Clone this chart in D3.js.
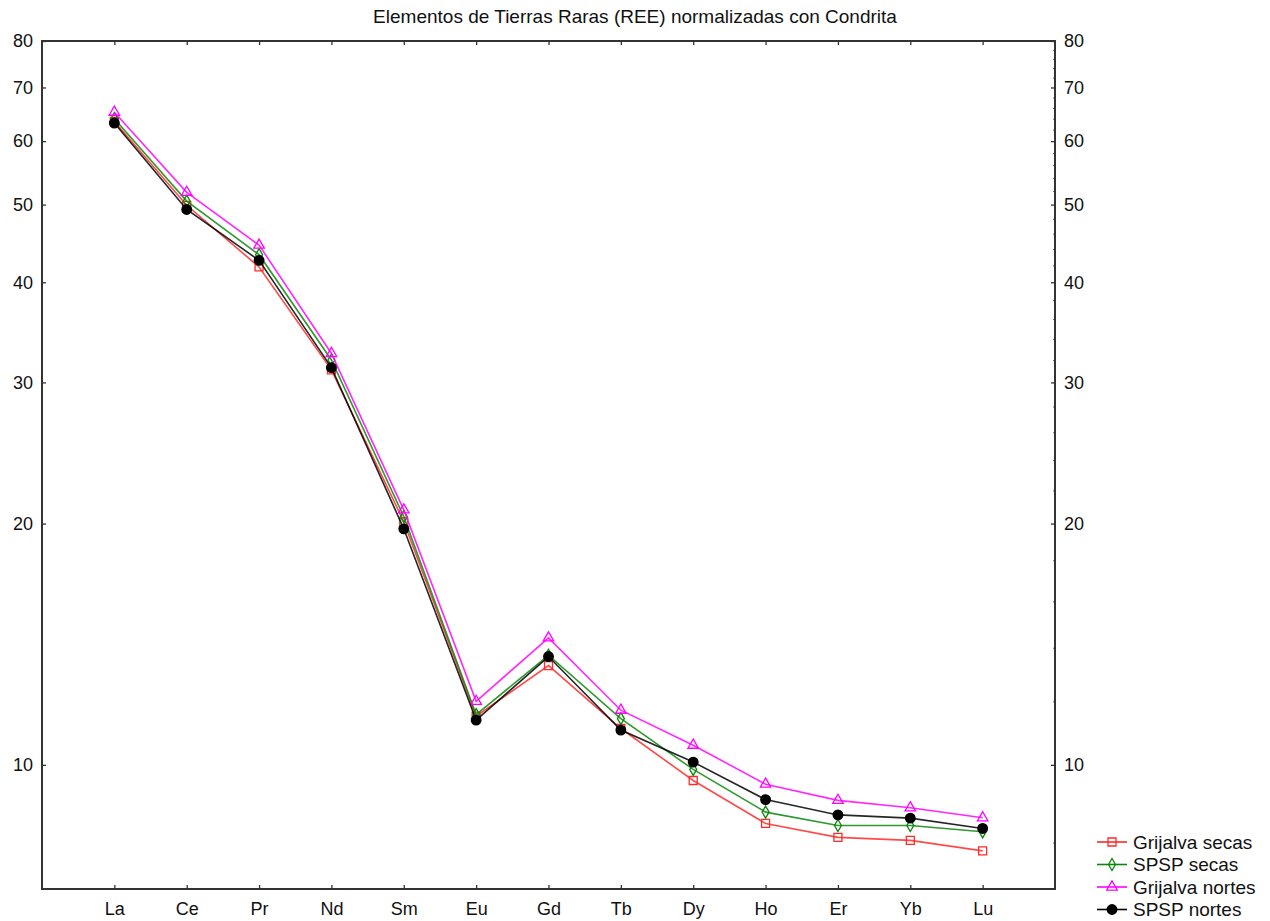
<!DOCTYPE html>
<html>
<head>
<meta charset="utf-8">
<script src="https://cdn.jsdelivr.net/npm/d3@7"></script>
<style>
  html, body { margin: 0; padding: 0; background: #fff; }
  svg { display: block; font-family: "Liberation Sans", Arial, sans-serif; }
</style>
</head>
<body>
<svg id="chart" width="1270" height="921"></svg>
<script>
// REE patterns normalised to chondrite
const elements = ["La","Ce","Pr","Nd","Sm","Eu","Gd","Tb","Dy","Ho","Er","Yb","Lu"];
const grijalvaSecas  = [63.5, 49.9, 41.8, 31.1, 20.1, 11.5, 13.3, 11.1, 9.56, 8.45, 8.12, 8.05, 7.81];
const spspSecas      = [64.0, 50.5, 43.3, 32.0, 20.4, 11.55, 13.7, 11.42, 9.87, 8.73, 8.40, 8.40, 8.25];
const grijalvaNortes = [65.2, 51.8, 44.5, 32.6, 20.8, 12.0, 14.4, 11.7, 10.58, 9.46, 9.03, 8.84, 8.59];
const spspNortes     = [63.2, 49.3, 42.6, 31.3, 19.7, 11.37, 13.65, 11.05, 10.08, 9.05, 8.66, 8.58, 8.33];
const majorTicks = [10, 20, 30, 40, 50, 60, 70, 80];
const minorTicks = [8, 12, 14, 16, 18, 22, 24, 26, 28, 32, 34, 36, 38, 42, 44, 46, 48, 52, 54, 56, 58, 62, 64, 66, 68, 72, 74, 76, 78];

const series = [
  { name: "Grijalva secas",  values: grijalvaSecas,  color: "#ff2a2a", symbol: "square" },
  { name: "SPSP secas",      values: spspSecas,      color: "#0a860a", symbol: "diamond" },
  { name: "Grijalva nortes", values: grijalvaNortes, color: "#ff00ff", symbol: "triangle" },
  { name: "SPSP nortes",     values: spspNortes,     color: "#000000", symbol: "circle" }
];

const svg = d3.select("#chart");
const m = { left: 42, right: 1055, top: 41, bottom: 889 };

const x = d3.scalePoint().domain(elements).range([m.left, m.right]).padding(1);
const y = d3.scaleLog().domain([7, 80]).range([m.bottom, m.top]);

// Title
svg.append("text")
  .attr("x", 635).attr("y", 23)
  .attr("text-anchor", "middle")
  .attr("font-size", 19)
  .attr("fill", "#111")
  .text("Elementos de Tierras Raras (REE) normalizadas con Condrita");

const axisColor = "#333";

// Left axis: major ticks pointing inward
const leftAxis = svg.append("g").attr("transform", `translate(${m.left},0)`)
  .call(d3.axisLeft(y).tickValues(majorTicks).tickFormat(d3.format("d")).tickSizeInner(-4).tickSizeOuter(0).tickPadding(9));
leftAxis.select(".domain").remove();
leftAxis.selectAll("line").attr("stroke", axisColor).attr("stroke-width", 1.3);
leftAxis.selectAll("text").attr("font-size", 18).attr("fill", "#111");

// Right axis: labelled majors plus minor ticks, all pointing inward
const rightAxis = svg.append("g").attr("transform", `translate(${m.right},0)`)
  .call(d3.axisRight(y).tickValues(majorTicks).tickFormat(d3.format("d")).tickSizeInner(-4).tickSizeOuter(0).tickPadding(9));
rightAxis.select(".domain").remove();
rightAxis.selectAll("line").attr("stroke", axisColor).attr("stroke-width", 1.3);
rightAxis.selectAll("text").attr("font-size", 18).attr("fill", "#111");
const rightMinor = svg.append("g").attr("transform", `translate(${m.right},0)`)
  .call(d3.axisRight(y).tickValues(minorTicks).tickFormat("").tickSizeInner(-2).tickSizeOuter(0));
rightMinor.select(".domain").remove();
rightMinor.selectAll("line").attr("stroke", "#666").attr("stroke-width", 1);

// Bottom axis with category labels, ticks inward
const bottomAxis = svg.append("g").attr("transform", `translate(0,${m.bottom})`)
  .call(d3.axisBottom(x).tickSizeInner(-4).tickSizeOuter(0).tickPadding(13));
bottomAxis.select(".domain").remove();
bottomAxis.selectAll("line").attr("stroke", axisColor).attr("stroke-width", 1.3);
bottomAxis.selectAll("text").attr("font-size", 18).attr("fill", "#111");

// Top axis: ticks only
const topAxis = svg.append("g").attr("transform", `translate(0,${m.top})`)
  .call(d3.axisTop(x).tickFormat("").tickSizeInner(-4).tickSizeOuter(0));
topAxis.select(".domain").remove();
topAxis.selectAll("line").attr("stroke", axisColor).attr("stroke-width", 1.3);

// Plot frame
svg.append("rect")
  .attr("x", m.left).attr("y", m.top)
  .attr("width", m.right - m.left).attr("height", m.bottom - m.top)
  .attr("fill", "none").attr("stroke", axisColor).attr("stroke-width", 2);

const symbolType = {
  square: d3.symbolSquare,
  diamond: d3.symbolDiamond,
  triangle: d3.symbolTriangle,
  circle: d3.symbolCircle
};
const symbolSize = { square: 64, diamond: 42, triangle: 48, circle: 72 };

function drawMarker(g, s, cx, cy) {
  const filled = s.symbol === "circle";
  g.append("path")
    .attr("transform", `translate(${cx},${cy})`)
    .attr("d", d3.symbol().type(symbolType[s.symbol]).size(symbolSize[s.symbol])())
    .attr("fill", filled ? s.color : "none")
    .attr("stroke", s.color)
    .attr("stroke-width", 1.3);
}

const line = d3.line()
  .x((d, i) => x(elements[i]))
  .y(d => y(d));

const plot = svg.append("g");
series.forEach(s => {
  plot.append("path")
    .attr("d", line(s.values))
    .attr("fill", "none")
    .attr("stroke", s.color)
    .attr("stroke-width", 1.6)
    .attr("stroke-opacity", 0.85);
  const mg = plot.append("g");
  s.values.forEach((v, i) => drawMarker(mg, s, x(elements[i]), y(v)));
});

// Legend
const legend = svg.append("g").attr("transform", "translate(1097,842)");
series.forEach((s, i) => {
  const row = legend.append("g").attr("transform", `translate(0,${i * 22.5})`);
  row.append("line").attr("x1", 0).attr("x2", 30).attr("y1", 0).attr("y2", 0)
    .attr("stroke", s.color).attr("stroke-width", 1.6);
  drawMarker(row, s, 15, 0);
  row.append("text").attr("x", 36).attr("y", 6.5)
    .attr("font-size", 19).attr("fill", "#111").text(s.name);
});
</script>
</body>
</html>
